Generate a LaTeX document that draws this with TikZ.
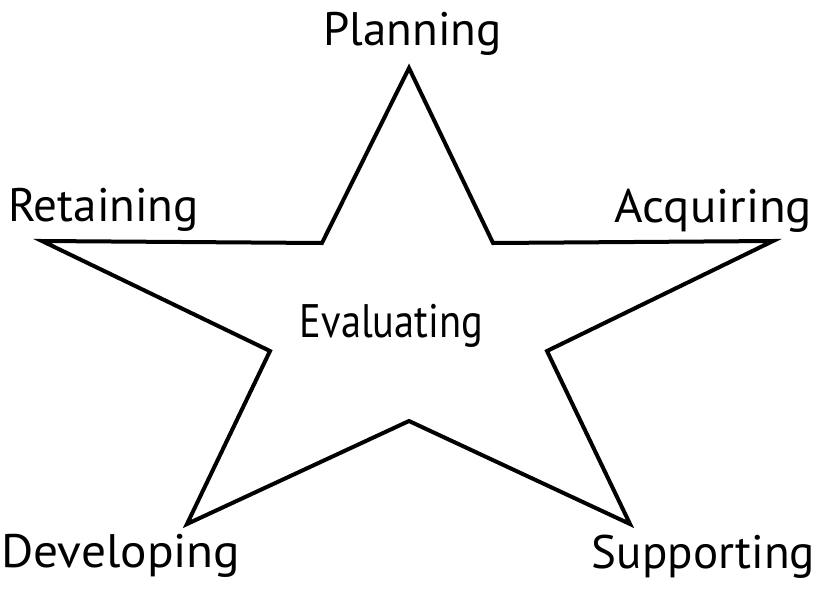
\documentclass[tikz,border=0pt]{standalone}
\usepackage{fontspec}
\setmainfont{PT Sans}
\begin{document}
\begin{tikzpicture}[x=1pt,y=-1pt,
  lbl/.style={anchor=base,inner sep=0pt,font=\fontsize{47}{50}\selectfont},
  starline/.style={draw=black,line width=4pt,line join=miter}]
\useasboundingbox (0,0) rectangle (820,590);
\coordinate (p1) at (409,68);
\coordinate (q1) at (493,243);
\coordinate (p2) at (773,241);
\coordinate (q2) at (547,351);
\coordinate (p3) at (630,524);
\coordinate (q3) at (409,421);
\coordinate (p4) at (187,524);
\coordinate (q4) at (270,351);
\coordinate (p5) at (42,241);
\coordinate (q5) at (322,243);
\draw[starline] (p1) -- (q1) -- (p2) -- (q2) -- (p3) -- (q3) -- (p4) -- (q4) -- (p5) -- (q5) -- cycle;
\node[lbl] (planning) at (412.5,45) {Planning};
\node[lbl] (retaining) at (103.5,221) {Retaining};
\node[lbl] (acquiring) at (713.5,222) {\scalebox{1.04}[1]{Acquiring}};
\node[lbl] (evaluating) at (391.5,337) {\scalebox{0.86}[1]{Evaluating}};
\node[lbl] (developing) at (121,567) {\scalebox{1.05}[1]{Developing}};
\node[lbl] (supporting) at (703.5,568) {Supporting};
\end{tikzpicture}
\end{document}
